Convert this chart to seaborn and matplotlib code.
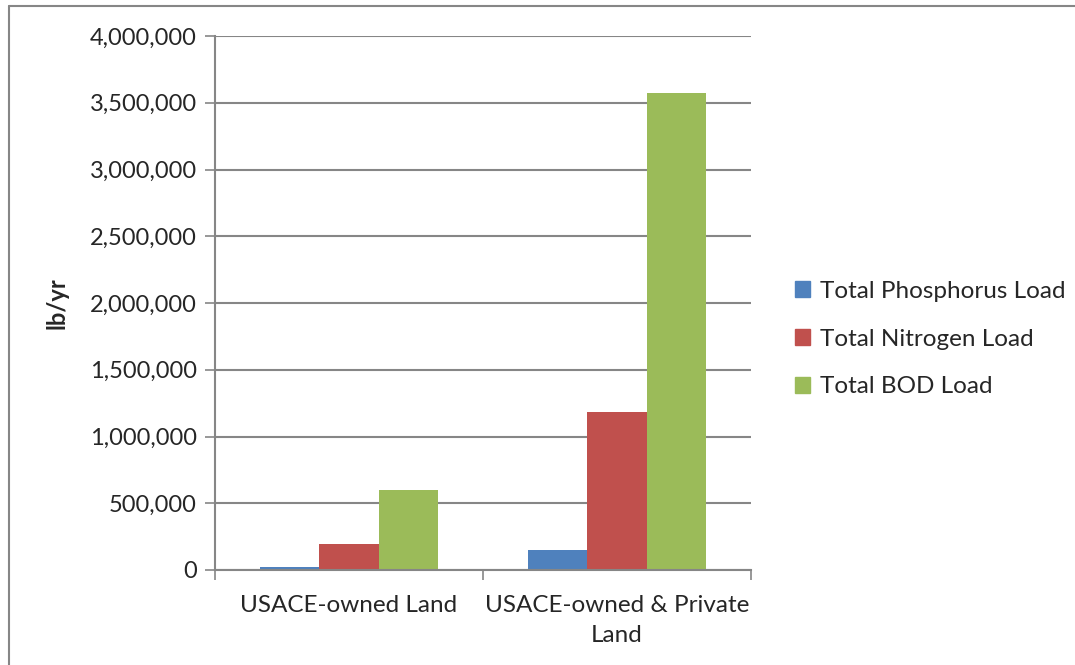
import matplotlib
matplotlib.use("Agg")
import matplotlib.pyplot as plt
import matplotlib.patches as mpatches
import seaborn as sns
import pandas as pd
from matplotlib.ticker import FuncFormatter, FixedLocator

# Datos (lb/yr)
categorias = ["USACE-owned Land", "USACE-owned & Private\nLand"]
series = ["Total Phosphorus Load", "Total Nitrogen Load", "Total BOD Load"]
fosforo = [20000, 151000]
nitrogeno = [195000, 1181000]
dbo = [598000, 3575000]
colores = ["#4F81BD", "#C0504D", "#9BBB59"]

filas = []
for serie, valores in zip(series, [fosforo, nitrogeno, dbo]):
    for cat, v in zip(categorias, valores):
        filas.append({"categoria": cat, "serie": serie, "carga": v})
df = pd.DataFrame(filas)

sns.set_theme(style="white")
plt.rcParams["font.family"] = ["Lato", "DejaVu Sans"]

fig = plt.figure(figsize=(10.75, 6.65), dpi=100)
ax = fig.add_axes([215 / 1075, 1 - 570 / 665, (751 - 215) / 1075, (570 - 36) / 665])

sns.barplot(data=df, x="categoria", y="carga", hue="serie", order=categorias,
            hue_order=series, palette=colores, width=0.667, gap=0, saturation=1,
            edgecolor="none", legend=False, ax=ax)

# Ejes y rejilla al estilo Excel
gris = "#868686"
ax.set_ylim(0, 4000000)
ax.set_xlim(-0.5, 1.5)
ax.set_yticks(range(0, 4000001, 500000))
ax.yaxis.set_major_formatter(FuncFormatter(lambda v, p: f"{int(v):,}"))
ax.grid(axis="y", color=gris, linewidth=1.5)
ax.set_axisbelow(True)
for lado in ["top", "right"]:
    ax.spines[lado].set_visible(False)
for lado in ["left", "bottom"]:
    ax.spines[lado].set_color(gris)
    ax.spines[lado].set_linewidth(1.5)

ax.tick_params(axis="y", which="major", length=7, width=1.2, color=gris,
               labelsize=17, pad=6, left=True)
ax.set_xticks(range(len(categorias)))
ax.set_xticklabels(categorias, linespacing=1.55, ha="center")
ax.xaxis.set_minor_locator(FixedLocator([-0.5, 0.5, 1.5]))
ax.tick_params(axis="x", which="major", length=0, labelsize=17.5, pad=18)
ax.tick_params(axis="x", which="minor", length=7, width=1.2, color=gris, bottom=True)

ax.set_xlabel("")
ax.set_ylabel("")
fig.text(57 / 1075, 1 - 303 / 665, "lb/yr", rotation=90, fontsize=17,
         fontweight="bold", ha="center", va="center")

# Leyenda
handles = [mpatches.Patch(color=c, label=s) for c, s in zip(colores, series)]
fig.legend(handles=handles, loc="center left", bbox_to_anchor=(773 / 1075, 1 - 339 / 665),
           frameon=False, fontsize=17.5, handlelength=0.62, handleheight=0.62,
           handletextpad=0.4, labelspacing=1.1)

# Marco del área del gráfico
fig.add_artist(plt.Line2D([9 / 1075, 9 / 1075], [0, 1 - 6 / 665], color=gris, lw=1.5))
fig.add_artist(plt.Line2D([9 / 1075, 1], [1 - 6 / 665, 1 - 6 / 665], color=gris, lw=1.5))

fig.savefig("out.png", dpi=100, facecolor="white")
